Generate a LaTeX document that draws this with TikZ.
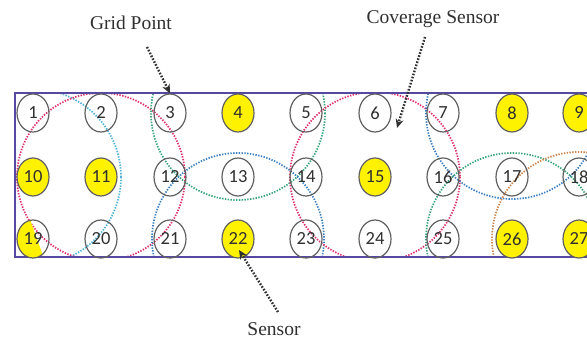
\documentclass[tikz,border=0pt]{standalone}
\usepackage{fontspec}
\setmainfont{Liberation Serif}
\newfontfamily\numfont{Carlito}
\usetikzlibrary{arrows.meta,shapes.geometric,calc}

\definecolor{sensorfill}{HTML}{FFF200}
\definecolor{framec}{HTML}{5548A0}
\definecolor{covred}{HTML}{E0306A}
\definecolor{covblue}{HTML}{3A80C2}
\definecolor{covsky}{HTML}{4DB2DA}
\definecolor{covgreen}{HTML}{38A47A}
\definecolor{covorange}{HTML}{D0854A}
\definecolor{inkc}{HTML}{303030}

\begin{document}
\begin{tikzpicture}[x=1pt,y=-1pt,
  gridpt/.style={ellipse, draw=black!62, line width=1.2pt,
    minimum width=32pt, minimum height=38pt, inner sep=0pt,
    font=\numfont\fontsize{18.5}{18.5}\selectfont, text=inkc},
  sensor/.style={gridpt, fill=sensorfill},
  cover/.style={line width=1.7pt, dash pattern=on 1.4pt off 1.4pt},
  callout/.style={draw=inkc, line width=2.4pt, dash pattern=on 1.6pt off 1.6pt,
    -{Stealth[length=9pt,width=8pt]}},
  lbl/.style={font=\fontsize{19.5}{20}\selectfont, text=inkc}
]
\fill[white] (0,0) rectangle (587,344);
\useasboundingbox (0,0) rectangle (587,344);
\clip (0,0) rectangle (587,344);

% grid point centres: three rows of nine
\foreach \r/\y in {0/113,1/177,2/239}
  \foreach \c/\x in {1/33,2/101,3/170,4/238,5/306,6/375,7/443,8/512,9/579} {
    \pgfmathtruncatemacro\k{\r*9+\c}
    \coordinate (p\k) at (\x,\y);
  }

% monitored field
\coordinate (fieldNW) at (15,93);
\coordinate (fieldSE) at (605,257);

% sensing ranges, kept inside the field
\begin{scope}
  \clip (fieldNW) rectangle (fieldSE);
  \draw[cover,covsky]    (p10) circle[radius=88];
  \draw[cover,covred]    (p11) circle[radius=84];
  \draw[cover,covgreen]  (p4)  circle[radius=87];
  \draw[cover,covblue]   (p22) circle[radius=86];
  \draw[cover,covred]    (p15) circle[radius=85];
  \draw[cover,covblue]   (p8)  circle[radius=86];
  \draw[cover,covgreen]  (p26) circle[radius=86];
  \draw[cover,covorange] (p27) circle[radius=87];
\end{scope}

\draw[framec, line width=1.5pt] (fieldNW) rectangle (fieldSE);

% partly shaded point 19
\begin{scope}
  \clip (p19) ellipse[x radius=16, y radius=19];
  \fill[sensorfill] ($(p19)+(-4,-22)$) -- ($(p19)+(12,22)$) -- ($(p19)+(-22,22)$) -- ($(p19)+(-22,-22)$) -- cycle;
\end{scope}

% plain grid points
\foreach \k in {1,2,3,5,6,7,12,13,14,16,17,18,19,20,21,23,24,25}
  \node[gridpt] (n\k) at (p\k) {\k};
% grid points holding a sensor
\foreach \k in {4,8,9,10,11,15,22,26,27}
  \node[sensor] (n\k) at (p\k) {\k};

% callouts
\node[lbl] (gridlbl) at (131,23) {Grid Point};
\node[lbl] (covlbl) at (433,19) {Coverage Sensor};
\node[lbl] (senslbl) at (274,329) {Sensor};

\coordinate (gridtail) at (147,47);
\coordinate (covtail) at (425,37);
\coordinate (covtip) at (397,128);
\coordinate (senstail) at (278,312);
\coordinate (senstip) at (239,250);

\draw[callout] (gridtail) -- (n3.north);
\draw[callout] (covtail) -- (covtip);
\draw[callout] (senstail) -- (senstip);
\end{tikzpicture}
\end{document}
